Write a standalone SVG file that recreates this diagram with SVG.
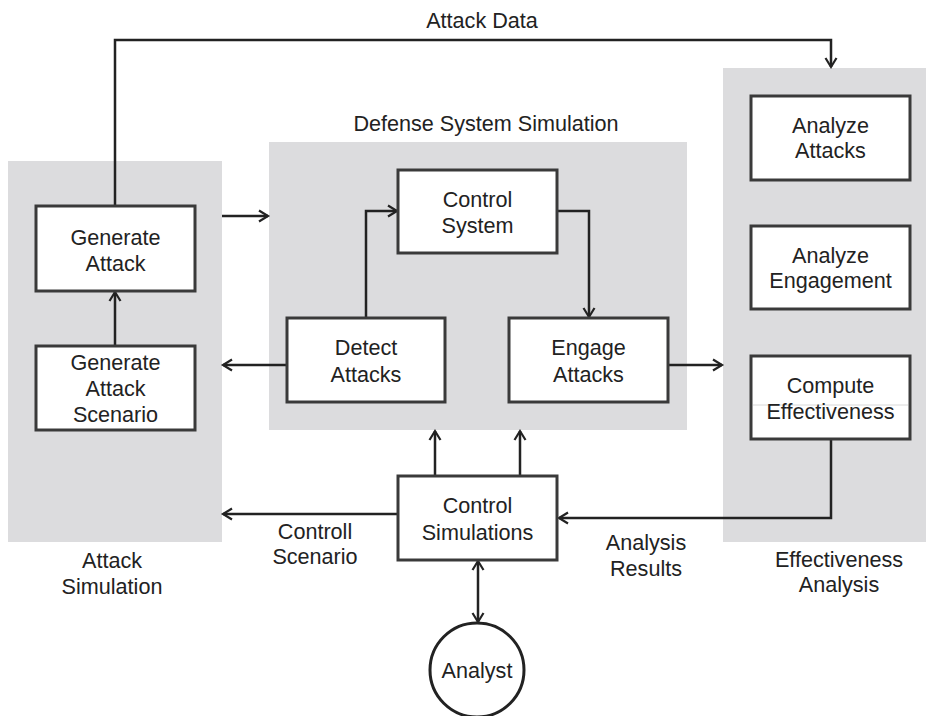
<svg xmlns="http://www.w3.org/2000/svg" width="929" height="716" viewBox="0 0 929 716">
<style>
.panel{fill:#dcdcde}
.box{fill:#fff;stroke:#3a3a3a;stroke-width:3}
.t{font-family:"Liberation Sans",Arial,sans-serif;font-size:21.6px;fill:#222;text-anchor:middle}
.c{fill:none;stroke:#222;stroke-width:2.5}
</style>
<defs>
<marker id="arr" markerWidth="14" markerHeight="14" refX="11" refY="7" orient="auto-start-reverse" markerUnits="userSpaceOnUse">
<path d="M2,1.5 L11,7 L2,12.5" fill="none" stroke="#222" stroke-width="2.2"/>
</marker>
</defs>
<rect width="929" height="716" fill="#fff"/>
<g id="attack-simulation">
<rect class="panel" x="8" y="161" width="214" height="381"/>
<text class="t" x="112" y="568">Attack</text>
<text class="t" x="112" y="594">Simulation</text>
</g>
<g id="defense-system-simulation">
<rect class="panel" x="269" y="142" width="418" height="288"/>
<text class="t" x="486" y="131">Defense System Simulation</text>
</g>
<g id="effectiveness-analysis">
<rect class="panel" x="723" y="68" width="203" height="474"/>
<text class="t" x="839" y="567">Effectiveness</text>
<text class="t" x="839" y="592">Analysis</text>
</g>
<g id="connectors">
<polyline class="c" points="115,206 115,40 831,40 831,67" marker-end="url(#arr)"/>
<line class="c" x1="115" y1="346" x2="115" y2="292" marker-end="url(#arr)"/>
<line class="c" x1="222" y1="216" x2="268" y2="216" marker-end="url(#arr)"/>
<polyline class="c" points="366,318 366,211 397,211" marker-end="url(#arr)"/>
<polyline class="c" points="557,211 589,211 589,317" marker-end="url(#arr)"/>
<line class="c" x1="287" y1="365" x2="223" y2="365" marker-end="url(#arr)"/>
<line class="c" x1="668" y1="365" x2="722" y2="365" marker-end="url(#arr)"/>
<line class="c" x1="435" y1="476" x2="435" y2="431" marker-end="url(#arr)"/>
<line class="c" x1="520" y1="476" x2="520" y2="431" marker-end="url(#arr)"/>
<line class="c" x1="398" y1="514" x2="223" y2="514" marker-end="url(#arr)"/>
<polyline class="c" points="831,439 831,518 559,518" marker-end="url(#arr)"/>
<line class="c" x1="478" y1="561" x2="478" y2="622" marker-start="url(#arr)" marker-end="url(#arr)"/>
<text class="t" x="315" y="539">Controll</text>
<text class="t" x="315" y="564">Scenario</text>
<text class="t" x="482" y="28">Attack Data</text>
<text class="t" x="646" y="550">Analysis</text>
<text class="t" x="646" y="576">Results</text>
</g>
<g id="generate-attack">
<rect class="box" x="36" y="206" width="159" height="85"/>
<text class="t" x="115.5" y="245">Generate</text>
<text class="t" x="115.5" y="271">Attack</text>
</g>
<g id="generate-attack-scenario">
<rect class="box" x="36" y="346" width="159" height="84"/>
<text class="t" x="115.5" y="370">Generate</text>
<text class="t" x="115.5" y="396">Attack</text>
<text class="t" x="115.5" y="422">Scenario</text>
</g>
<g id="control-system">
<rect class="box" x="398" y="170" width="159" height="83"/>
<text class="t" x="477.5" y="207">Control</text>
<text class="t" x="477.5" y="233">System</text>
</g>
<g id="detect-attacks">
<rect class="box" x="287" y="318" width="158" height="84"/>
<text class="t" x="366" y="355">Detect</text>
<text class="t" x="366" y="382">Attacks</text>
</g>
<g id="engage-attacks">
<rect class="box" x="509" y="318" width="159" height="84"/>
<text class="t" x="588.5" y="355">Engage</text>
<text class="t" x="588.5" y="382">Attacks</text>
</g>
<g id="analyze-attacks">
<rect class="box" x="751" y="96" width="159" height="84"/>
<text class="t" x="830.5" y="133">Analyze</text>
<text class="t" x="830.5" y="158">Attacks</text>
</g>
<g id="analyze-engagement">
<rect class="box" x="751" y="226" width="159" height="83"/>
<text class="t" x="830.5" y="263">Analyze</text>
<text class="t" x="830.5" y="288">Engagement</text>
</g>
<g id="compute-effectiveness">
<rect class="box" x="751" y="356" width="159" height="83"/>
<line x1="753" y1="405" x2="908" y2="405" stroke="#d8d8d8" stroke-width="1"/>
<text class="t" x="830.5" y="393">Compute</text>
<text class="t" x="830.5" y="419">Effectiveness</text>
</g>
<g id="control-simulations">
<rect class="box" x="398" y="476" width="159" height="84"/>
<text class="t" x="477.5" y="513">Control</text>
<text class="t" x="477.5" y="540">Simulations</text>
</g>
<g id="analyst">
<circle cx="477" cy="670" r="47" fill="#fff" stroke="#222" stroke-width="3"/>
<text class="t" x="477" y="678">Analyst</text>
</g>
</svg>
